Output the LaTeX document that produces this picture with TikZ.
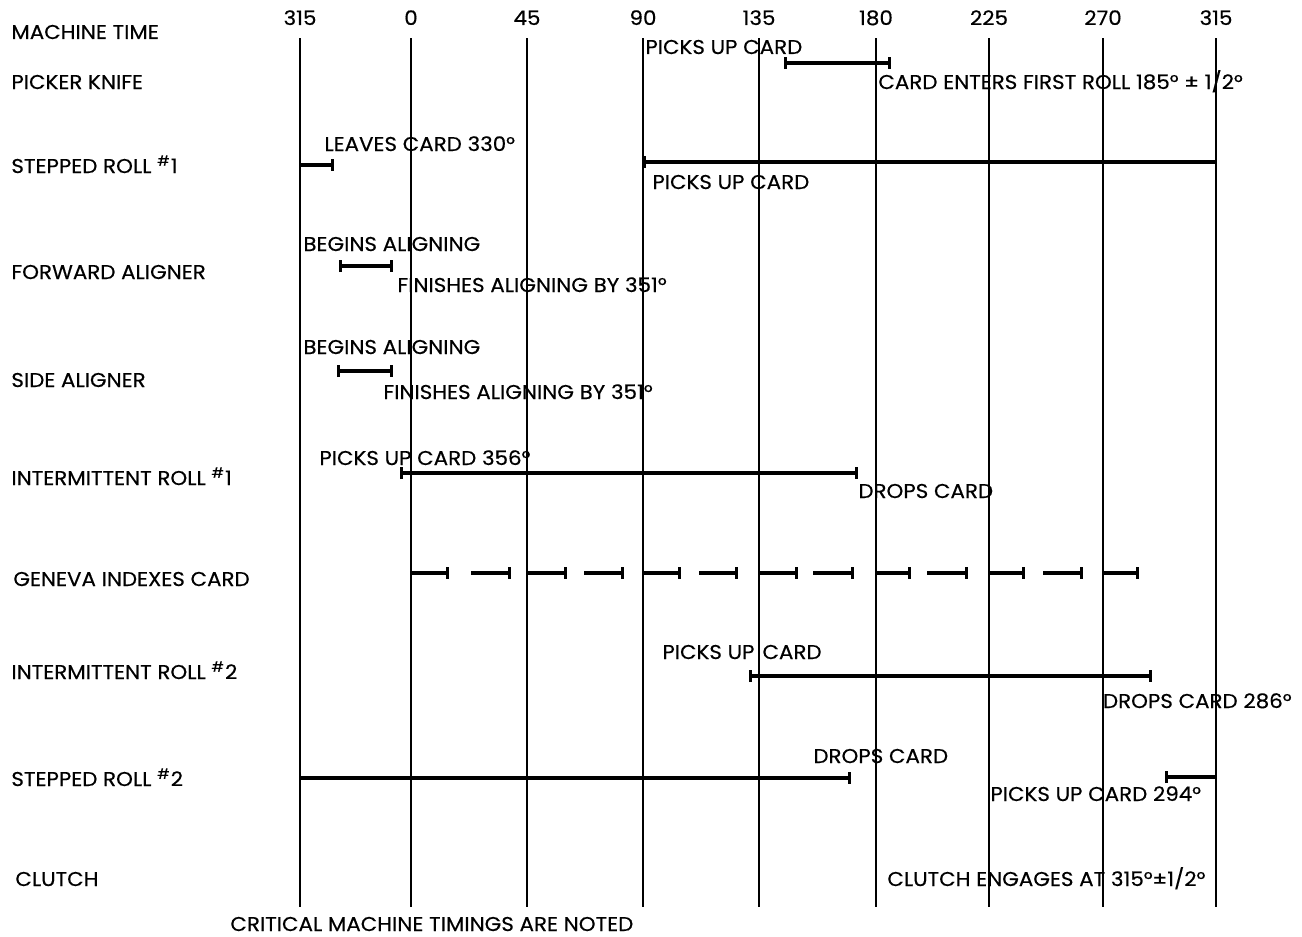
\documentclass[tikz,border=0pt]{standalone}
\usepackage{fontspec}
\setmainfont{Poppins}[FakeStretch=1.07,FakeBold=0.4]
\usetikzlibrary{arrows.meta}
\tikzset{tb/.tip={Bar[width=6pt,line width=1.5pt]}}
\begin{document}
\begin{tikzpicture}[x=0.5pt,y=-0.5pt,
  lbl/.style={anchor=base west,inner sep=0pt,font=\fontsize{10}{12}\selectfont},
  deg/.style={anchor=base,inner sep=0pt,font=\fontsize{10}{12}\selectfont},
  gridline/.style={line width=1.1pt},
  bar/.style={line width=2.2pt}]
\useasboundingbox (0,0) rectangle (1302,937);
\fill[white] (0,0) rectangle (1302,937);
% vertical time lines and degree labels
\foreach \x/\t/\n in {300/315/a,411/0/b,527/45/c,643/90/d,759/135/e,876/180/f,989/225/g,1103/270/h,1216/315/i}{
  \draw[gridline] (\x,38) -- (\x,907);
  \node[deg] (deg\n) at (\x,25) {\t};
}
% row labels
\node[lbl] (r0) at (11,39) {MACHINE TIME};
\node[lbl] (r1) at (11,89) {PICKER KNIFE};
\node[lbl] (r2) at (11,173) {STEPPED ROLL \textsuperscript{\#}1};
\node[lbl] (r3) at (11,279) {FORWARD ALIGNER};
\node[lbl] (r4) at (11,387) {SIDE ALIGNER};
\node[lbl] (r5) at (11,485) {INTERMITTENT ROLL \textsuperscript{\#}1};
\node[lbl] (r6) at (13,586) {GENEVA INDEXES CARD};
\node[lbl] (r7) at (11,679) {INTERMITTENT ROLL \textsuperscript{\#}2};
\node[lbl] (r8) at (11,786) {STEPPED ROLL \textsuperscript{\#}2};
\node[lbl] (r9) at (15,886) {CLUTCH};
% annotations
\node[lbl] (a1) at (645,54) {PICKS UP CARD};
\node[lbl] (a2) at (878,89) {CARD ENTERS FIRST ROLL 185° ± 1/2°};
\node[lbl] (a3) at (324,151) {LEAVES CARD 330°};
\node[lbl] (a4) at (652,189) {PICKS UP CARD};
\node[lbl] (a5) at (303,251) {BEGINS ALIGNING};
\node[lbl] (a6) at (397,292) {FINISHES ALIGNING BY 351°};
\node[lbl] (a7) at (303,354) {BEGINS ALIGNING};
\node[lbl] (a8) at (383,399) {FINISHES ALIGNING BY 351°};
\node[lbl] (a9) at (319,465) {PICKS UP CARD 356°};
\node[lbl] (a10) at (858,498) {DROPS CARD};
\node[lbl] (a11) at (662,659) {PICKS UP\hspace{0.4em}CARD};
\node[lbl,anchor=base east] (a12) at (1292,708) {DROPS CARD 286°};
\node[lbl] (a13) at (813,763) {DROPS CARD};
\node[lbl] (a14) at (990,801) {PICKS UP CARD 294°};
\node[lbl] (a15) at (887,886) {CLUTCH ENGAGES AT 315°±1/2°};
\node[lbl] (a16) at (230,931) {CRITICAL MACHINE TIMINGS ARE NOTED};
% timing bars
\draw[bar,tb-tb] (784,63) -- (891,63);
\draw[bar,-tb] (300,165) -- (334,165);
\draw[bar,tb-] (643,162) -- (1216,162);
\draw[bar,tb-tb] (339,266) -- (393,266);
\draw[bar,tb-tb] (337,371) -- (393,371);
\draw[bar,tb-tb] (400,473) -- (858,473);
\foreach \s/\e in {411/449,471/511,527/567,584/624,643/681,699/738,759/798,813/854,876/911,927/968,990/1025,1043/1083,1104/1139}{
  \draw[bar,-tb] (\s,573) -- (\e,573);
}
\draw[bar,tb-tb] (749,676) -- (1152,676);
\draw[bar,-tb] (300,778) -- (851,778);
\draw[bar,tb-] (1165,777) -- (1216,777);
\end{tikzpicture}
\end{document}
